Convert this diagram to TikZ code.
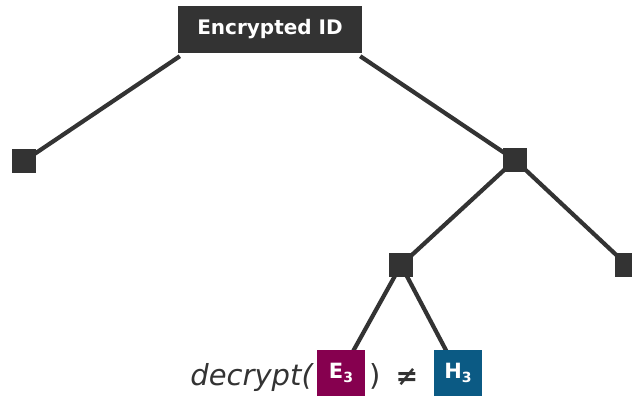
\documentclass[tikz,border=0pt]{standalone}
\usepackage{fontspec}
\setmainfont{DejaVu Sans}
\usetikzlibrary{backgrounds}
\definecolor{ink}{HTML}{333333}
\definecolor{plum}{HTML}{86004F}
\definecolor{steel}{HTML}{0B5A84}
\tikzset{
  edge/.style={draw=ink, line width=4.2pt},
  leaf/.style={fill=ink, minimum size=24pt, inner sep=0pt},
  hashbox/.style={minimum width=48pt, minimum height=46pt, inner sep=0pt,
    text=white, font=\bfseries\fontsize{21}{21}\selectfont},
  formula/.style={text=ink, inner sep=0pt, font=\fontsize{29}{29}\selectfont}
}
\newcommand{\subidx}[1]{\raisebox{-4pt}{\fontsize{14}{14}\selectfont #1}}
\begin{document}
\begin{tikzpicture}[x=1pt,y=-1pt]
\useasboundingbox (0,0) rectangle (632,396);
% root label
\node[fill=ink, minimum width=184pt, minimum height=47pt, inner sep=0pt,
      text=white, font=\bfseries\fontsize{20}{20}\selectfont] (root) at (270,29.5) {Encrypted ID};
% tree nodes
\node[leaf] (l) at (24,161) {};
\node[leaf] (r) at (515,160) {};
\node[leaf] (rl) at (401,265) {};
\node[leaf] (rr) at (627,265) {};
% hash boxes
\node[hashbox, fill=plum] (e3) at (341,373) {E\subidx{3}};
\node[hashbox, fill=steel] (h3) at (458,373) {H\subidx{3}};
% formula text
\node[formula, anchor=base east, font=\itshape\fontsize{29}{29}\selectfont] (dec) at (313,385) {decrypt(};
\node[formula, anchor=base west, font=\fontsize{29}{29}\selectfont] (cl) at (369,385) {)};
\node[formula, anchor=base, font=\bfseries\fontsize{27}{27}\selectfont] (ne) at (407,385) {≠};
% connectors
\begin{scope}[on background layer]
\draw[edge] ([xshift=2pt,yshift=-3pt]root.south west) -- (l.center);
\draw[edge] ([xshift=-2pt,yshift=-3pt]root.south east) -- (r.center);
\draw[edge] (r.center) -- (rl.center);
\draw[edge] (r.center) -- (rr.center);
\draw[edge] (rl.center) -- (e3.center);
\draw[edge] (rl.center) -- (h3.center);
\end{scope}
\end{tikzpicture}
\end{document}
